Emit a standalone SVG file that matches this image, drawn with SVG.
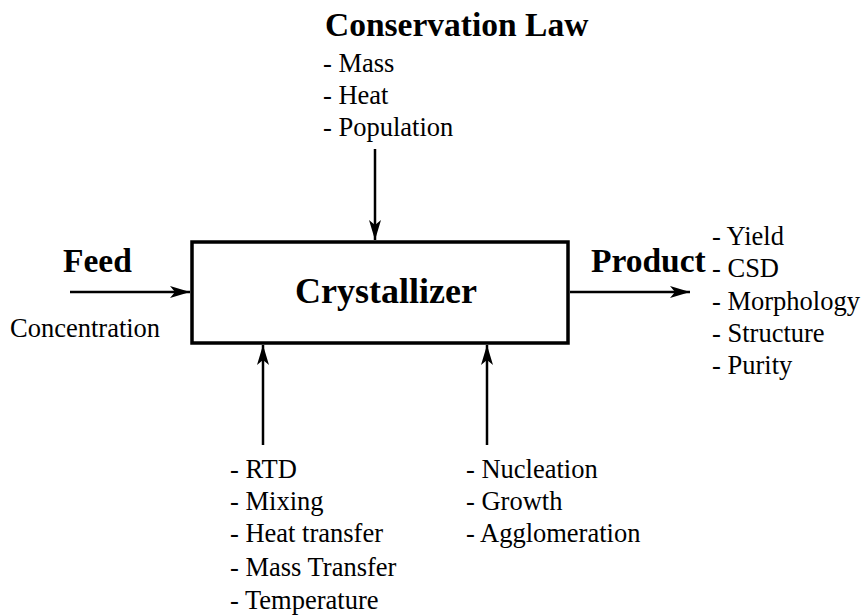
<svg xmlns="http://www.w3.org/2000/svg" width="867" height="615" viewBox="0 0 867 615" font-family="'Liberation Serif', 'Times New Roman', 'DejaVu Serif', serif">
<defs>
<marker id="ah" viewBox="0 0 20 12" refX="20" refY="6" markerWidth="20" markerHeight="12" markerUnits="userSpaceOnUse" orient="auto">
<path d="M0,0 L20,6 L0,12 L5,6 Z" fill="#000"/>
</marker>
<style>
text{font-family:'Liberation Serif','Times New Roman','DejaVu Serif',serif;fill:#000}
.b{font-weight:bold;font-size:33.5px}
.t{font-size:26.5px}
.c{stroke:#000;stroke-width:2.5;fill:none}
</style>
</defs>
<rect width="867" height="615" fill="#fff"/>
<g id="crystallizer">
<rect x="192" y="242" width="376" height="101" fill="#fff" stroke="#000" stroke-width="3.5"/>
<text class="b" x="386" y="303" text-anchor="middle" style="font-size:36px">Crystallizer</text>
</g>
<g id="conservation">
<text class="b" x="325" y="36">Conservation Law</text>
<text class="t" x="323" y="72">- Mass</text>
<text class="t" x="323" y="104">- Heat</text>
<text class="t" x="323" y="136">- Population</text>
</g>
<g id="feed">
<text class="b" x="63" y="272">Feed</text>
<text class="t" x="10" y="337">Concentration</text>
</g>
<g id="product">
<text class="b" x="591" y="272">Product</text>
<text class="t" x="712" y="245">- Yield</text>
<text class="t" x="712" y="277">- CSD</text>
<text class="t" x="712" y="310">- Morphology</text>
<text class="t" x="712" y="342">- Structure</text>
<text class="t" x="712" y="374">- Purity</text>
</g>
<g id="transport">
<text class="t" x="230" y="478">- RTD</text>
<text class="t" x="230" y="510">- Mixing</text>
<text class="t" x="230" y="542">- Heat transfer</text>
<text class="t" x="230" y="576">- Mass Transfer</text>
<text class="t" x="230" y="609">- Temperature</text>
</g>
<g id="kinetics">
<text class="t" x="466" y="478">- Nucleation</text>
<text class="t" x="466" y="510">- Growth</text>
<text class="t" x="466" y="542">- Agglomeration</text>
</g>
<g id="connectors">
<line class="c" x1="375" y1="149" x2="375" y2="240" marker-end="url(#ah)"/>
<line class="c" x1="70" y1="292" x2="190" y2="292" marker-end="url(#ah)"/>
<line class="c" x1="570" y1="292" x2="690" y2="292" marker-end="url(#ah)"/>
<line class="c" x1="263" y1="445" x2="263" y2="345" marker-end="url(#ah)"/>
<line class="c" x1="487" y1="445" x2="487" y2="345" marker-end="url(#ah)"/>
</g>
</svg>
